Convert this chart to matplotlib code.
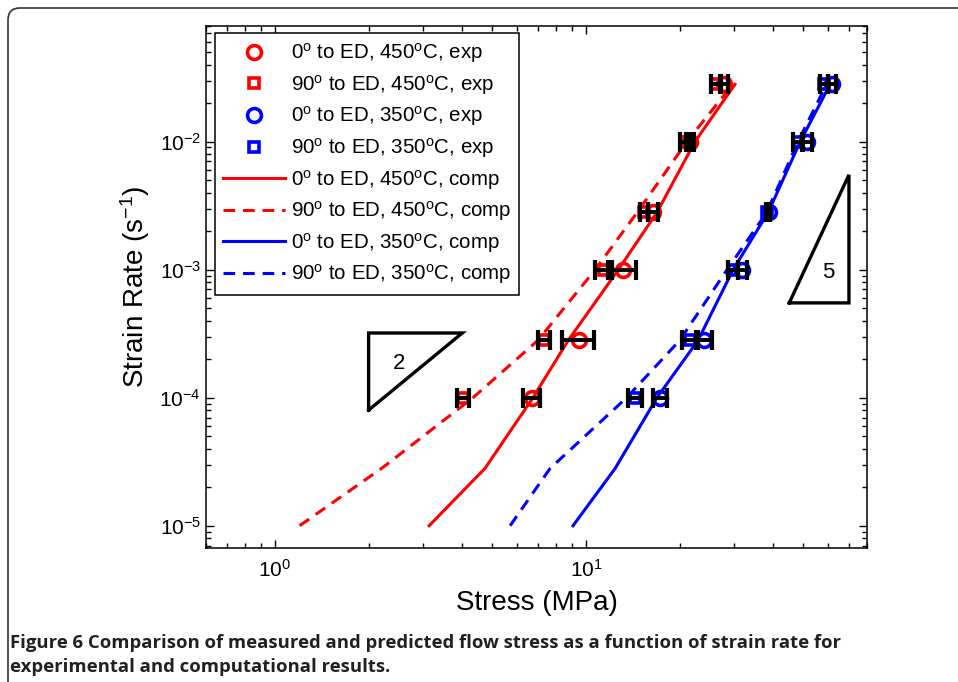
import numpy as np
import matplotlib
matplotlib.use('Agg')
import matplotlib.pyplot as plt
from matplotlib.patches import FancyBboxPatch
from matplotlib.transforms import IdentityTransform
from matplotlib.ticker import LogLocator, NullFormatter

plt.rcParams['font.family'] = ['Liberation Sans', 'DejaVu Sans']
plt.rcParams['mathtext.fontset'] = 'custom'
plt.rcParams['mathtext.rm'] = 'Liberation Sans'
plt.rcParams['mathtext.it'] = 'Liberation Sans:italic'
plt.rcParams['mathtext.bf'] = 'Liberation Sans:bold'

# experimental strain rates (1/s) and measured flow stress (MPa)
rate_exp = [1e-4, 2.8e-4, 1e-3, 2.8e-3, 1e-2, 2.8e-2]
stress_0_450 = [6.7, 9.5, 13.1, 16.4, 21.6, 27.8]
err_0_450 = [0.42, 1.13, 1.35, 0.6, 0.7, 0.9]
stress_90_450 = [4.02, 7.33, 11.4, 15.4, 20.8, 26.2]
err_90_450 = [0.17, 0.33, 0.7, 0.45, 0.8, 0.9]
stress_0_350 = [17.3, 24.0, 31.8, 38.6, 51.4, 61.8]
err_0_350 = [0.9, 1.4, 1.0, 0.4, 1.9, 2.0]
stress_90_350 = [14.4, 21.6, 29.7, 38.3, 48.0, 58.2]
err_90_350 = [0.75, 1.3, 1.0, 0.4, 1.7, 1.9]

# computational predictions
rate_comp = [1e-5, 2.8e-5, 1e-4, 2.8e-4, 1e-3, 2.8e-3, 1e-2, 2.8e-2]
comp_0_450 = [3.13, 4.73, 6.75, 8.76, 12.7, 16.9, 22.4, 30.1]
comp_90_450 = [1.2, 2.2, 4.33, 7.0, 10.7, 14.6, 21.1, 29.6]
comp_0_350 = [9.08, 12.4, 16.9, 22.9, 29.7, 38.5, 48.8, 60.9]
comp_90_350 = [5.7, 7.66, 13.5, 20.0, 28.4, 38.1, 48.0, 59.3]

# slope triangles
tri2_x = [2, 2, 4, 2]
tri2_y = [8e-5, 3.2e-4, 3.2e-4, 8e-5]
tri5_x = [45, 70, 70, 45]
tri5_y = [5.5e-4, 5.5e-4, 5.5e-3, 5.5e-4]

labels = [r'0$^\mathrm{o}$ to ED, 450$^\mathrm{o}$C, exp',
          r'90$^\mathrm{o}$ to ED, 450$^\mathrm{o}$C, exp',
          r'0$^\mathrm{o}$ to ED, 350$^\mathrm{o}$C, exp',
          r'90$^\mathrm{o}$ to ED, 350$^\mathrm{o}$C, exp',
          r'0$^\mathrm{o}$ to ED, 450$^\mathrm{o}$C, comp',
          r'90$^\mathrm{o}$ to ED, 450$^\mathrm{o}$C, comp',
          r'0$^\mathrm{o}$ to ED, 350$^\mathrm{o}$C, comp',
          r'90$^\mathrm{o}$ to ED, 350$^\mathrm{o}$C, comp']

fig = plt.figure(figsize=(9.58, 6.82), dpi=100)

# rounded frame around the figure panel
frame = FancyBboxPatch((8, -30), 1000, 682 - 8 + 30, boxstyle='round,pad=0,rounding_size=12',
                       transform=IdentityTransform(), fill=False, edgecolor='#333333', lw=1.2)
fig.add_artist(frame)

ax = fig.add_axes([0.215, 0.1965, 0.69, 0.7654])
ax.set_xscale('log')
ax.set_yscale('log')

red = '#ff0000'
blue = '#0000ff'
mew = 2.6

ax.plot(stress_0_450, rate_exp, 'o', mfc='none', mec=red, ms=10, mew=mew, label=labels[0], zorder=3)
ax.plot(stress_90_450, rate_exp, 's', mfc='none', mec=red, ms=7.5, mew=mew, label=labels[1], zorder=3)
ax.plot(stress_0_350, rate_exp, 'o', mfc='none', mec=blue, ms=10, mew=mew, label=labels[2], zorder=3)
ax.plot(stress_90_350, rate_exp, 's', mfc='none', mec=blue, ms=7.5, mew=mew, label=labels[3], zorder=3)

dash = (0, (3.8, 2.6))
ax.plot(comp_0_450, rate_comp, '-', color=red, lw=2.2, label=labels[4], zorder=2)
ax.plot(comp_90_450, rate_comp, linestyle=dash, color=red, lw=2.2, label=labels[5], zorder=2)
ax.plot(comp_0_350, rate_comp, '-', color=blue, lw=2.2, label=labels[6], zorder=2)
ax.plot(comp_90_350, rate_comp, linestyle=dash, color=blue, lw=2.2, label=labels[7], zorder=2)

for s, e in [(stress_0_450, err_0_450), (stress_90_450, err_90_450),
             (stress_0_350, err_0_350), (stress_90_350, err_90_350)]:
    ax.errorbar(s, rate_exp, xerr=e, fmt='none', ecolor='k', elinewidth=2.8,
                capsize=7, capthick=3.0, zorder=4)

ax.plot(tri2_x, tri2_y, '-', color='k', lw=2.4, solid_joinstyle='miter')
ax.plot(tri5_x, tri5_y, '-', color='k', lw=2.4, solid_joinstyle='miter')
ax.text(2.5, 1.85e-4, '2', fontsize=16, ha='center', va='center')
ax.text(60, 0.95e-3, '5', fontsize=16, ha='center', va='center')

ax.set_xlim(0.6, 80)
ax.set_ylim(6.7e-6, 0.08)
ax.xaxis.set_major_locator(LogLocator(base=10, numticks=10))
ax.yaxis.set_major_locator(LogLocator(base=10, numticks=10))
ax.xaxis.set_minor_locator(LogLocator(base=10, subs=np.arange(2, 10), numticks=20))
ax.yaxis.set_minor_locator(LogLocator(base=10, subs=np.arange(2, 10), numticks=20))
ax.xaxis.set_minor_formatter(NullFormatter())
ax.yaxis.set_minor_formatter(NullFormatter())
ax.tick_params(which='both', direction='in', top=True, right=True, labelsize=15, width=1.0)
ax.tick_params(which='major', length=6)
ax.tick_params(which='minor', length=3.5)
ax.tick_params(axis='x', pad=8)
for sp in ax.spines.values():
    sp.set_linewidth(1.1)

ax.set_xlabel('Stress (MPa)', fontsize=20)
ax.set_ylabel(r'Strain Rate (s$^{-1}$)', fontsize=20)
ax.xaxis.set_label_coords(0.5, -0.08)
ax.yaxis.set_label_coords(-0.082, 0.5)

leg = ax.legend(loc='upper left', bbox_to_anchor=(0.0136, 0.9866), borderaxespad=0,
                fontsize=14.8, handlelength=3.0, handletextpad=0.3, labelspacing=0.37,
                borderpad=0.4, fancybox=False, framealpha=1, edgecolor='k')
leg.get_frame().set_linewidth(1.1)

cap_color = '#231f20'
fig.text(10 / 958, 1 - 643 / 682,
         'Figure 6 Comparison of measured and predicted flow stress as a function of strain rate for',
         fontsize=13.3, fontweight='bold', family=['Open Sans', 'DejaVu Sans'], color=cap_color,
         ha='left', va='center')
fig.text(10 / 958, 1 - 667 / 682, 'experimental and computational results.',
         fontsize=13.3, fontweight='bold', family=['Open Sans', 'DejaVu Sans'], color=cap_color,
         ha='left', va='center')

fig.savefig('out.png', dpi=100)
